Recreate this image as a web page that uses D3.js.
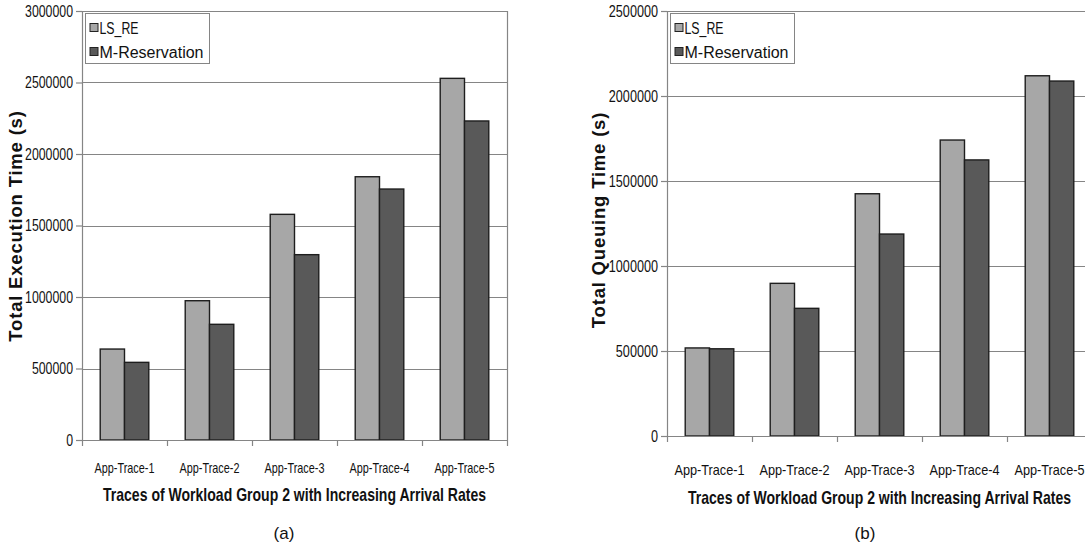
<!DOCTYPE html>
<html>
<head>
<meta charset="utf-8">
<script src="https://cdn.jsdelivr.net/npm/d3@7"></script>
<style>
  html, body { margin: 0; padding: 0; background: #fff; }
  svg { display: block; }
  text { font-family: "Liberation Sans", Arial, sans-serif; }
</style>
</head>
<body>
<svg id="chart" width="1085" height="544"></svg>
<script>
// Workload traces and series
const categories = ["App-Trace-1", "App-Trace-2", "App-Trace-3", "App-Trace-4", "App-Trace-5"];
const seriesNames = ["LS_RE", "M-Reservation"];

// (a) total execution time, seconds
const execLSRE = [636000, 974000, 1578000, 1841000, 2529000];
const execMRes = [543000, 809000, 1296000, 1755000, 2231000];
const execTicks = [0, 500000, 1000000, 1500000, 2000000, 2500000, 3000000];

// (b) total queuing time, seconds
const queueLSRE = [518000, 898000, 1425000, 1741000, 2119000];
const queueMRes = [513000, 751000, 1188000, 1624000, 2088000];
const queueTicks = [0, 500000, 1000000, 1500000, 2000000, 2500000];

const xTitle = "Traces of Workload Group 2 with Increasing Arrival Rates";
const colors = { "LS_RE": "#a7a7a7", "M-Reservation": "#595959" };
const lineGray = "#858585";

const svg = d3.select("#chart");

// Narrow the glyphs of each text by factor f (condensed face look-alike)
function squeeze(sel, f) {
  sel.each(function () {
    const len = this.getComputedTextLength();
    d3.select(this).attr("textLength", len * f).attr("lengthAdjust", "spacingAndGlyphs");
  });
}

function drawPanel(cfg) {
  const g = svg.append("g");
  const x = d3.scaleBand().domain(categories).range([cfg.left, cfg.right]).paddingInner(0).paddingOuter(0);
  const xs = d3.scaleBand().domain(seriesNames).range([0, x.bandwidth()]).paddingInner(0).paddingOuter(0.75);
  const y = d3.scaleLinear().domain([0, d3.max(cfg.ticks)]).range([cfg.bottom, cfg.top]);

  // horizontal gridlines
  g.append("g").selectAll("line").data(cfg.ticks.filter(t => t > 0)).join("line")
    .attr("x1", cfg.left).attr("x2", cfg.right)
    .attr("y1", d => Math.round(y(d)) + 0.5).attr("y2", d => Math.round(y(d)) + 0.5)
    .attr("stroke", lineGray).attr("stroke-width", 1.2);

  // right frame edge
  g.append("line")
    .attr("x1", cfg.right + 0.5).attr("x2", cfg.right + 0.5)
    .attr("y1", cfg.top).attr("y2", cfg.bottom)
    .attr("stroke", lineGray).attr("stroke-width", 1.2);

  // bars
  const rows = categories.map((c, i) => ({ cat: c, vals: [cfg.a[i], cfg.b[i]] }));
  g.append("g").selectAll("g").data(rows).join("g")
    .attr("transform", d => `translate(${x(d.cat)},0)`)
    .selectAll("rect").data(d => d.vals.map((v, j) => ({ key: seriesNames[j], v })))
    .join("rect")
    .attr("x", d => xs(d.key))
    .attr("width", xs.bandwidth())
    .attr("y", d => y(d.v))
    .attr("height", d => y(0) - y(d.v))
    .attr("fill", d => colors[d.key])
    .attr("stroke", "#1e1e1e").attr("stroke-width", 1.4);

  // y axis
  const yAxis = d3.axisLeft(y).tickValues(cfg.ticks).tickFormat(d3.format("d"))
    .tickSizeOuter(0).tickSize(6).tickPadding(3);
  const ya = g.append("g").attr("transform", `translate(${cfg.left},0)`).call(yAxis);
  ya.attr("font-family", null);
  ya.select(".domain").attr("stroke", lineGray).attr("stroke-width", 1.2);
  ya.selectAll(".tick line").attr("stroke", lineGray).attr("stroke-width", 1.2);
  const yt = ya.selectAll("text").attr("font-size", 16).attr("fill", "#111");
  squeeze(yt, cfg.yTickSqueeze);

  // x axis with ticks at category boundaries
  const xa = g.append("g").attr("transform", `translate(0,${cfg.bottom})`);
  xa.append("line").attr("x1", cfg.left).attr("x2", cfg.right).attr("y1", 0.5).attr("y2", 0.5)
    .attr("stroke", lineGray).attr("stroke-width", 1.2);
  const bounds = categories.map(c => x(c)).concat([cfg.right]);
  xa.selectAll("line.tk").data(bounds).join("line").attr("class", "tk")
    .attr("x1", d => d + 0.5).attr("x2", d => d + 0.5).attr("y1", 0).attr("y2", 6)
    .attr("stroke", lineGray).attr("stroke-width", 1.2);
  const xl = xa.selectAll("text").data(categories).join("text")
    .attr("x", d => x(d) + x.bandwidth() / 2).attr("y", cfg.xLabelDy)
    .attr("text-anchor", "middle").attr("font-size", cfg.xFont).attr("fill", "#111")
    .text(d => d);
  xl.attr("textLength", cfg.xLabelWidth).attr("lengthAdjust", "spacingAndGlyphs");

  // axis titles
  g.append("text")
    .attr("x", (cfg.left + cfg.right) / 2).attr("y", cfg.xTitleY)
    .attr("text-anchor", "middle").attr("font-weight", "bold").attr("font-size", 19).attr("fill", "#111")
    .attr("textLength", 383).attr("lengthAdjust", "spacingAndGlyphs")
    .text(xTitle);
  g.append("text")
    .attr("transform", `translate(${cfg.yTitleX},${cfg.yTitleY}) rotate(-90)`)
    .attr("text-anchor", "middle").attr("font-weight", "bold").attr("font-size", 18.5).attr("fill", "#111")
    .attr("letter-spacing", 0.8)
    .text(cfg.yTitle);

  // caption
  g.append("text")
    .attr("x", cfg.capX).attr("y", 539)
    .attr("text-anchor", "middle").attr("font-size", 17).attr("fill", "#111")
    .text(cfg.caption);

  // legend
  const lg = g.append("g").attr("transform", `translate(${cfg.left + 3.5},${cfg.top + 2.5})`);
  lg.append("rect").attr("width", 124).attr("height", 50)
    .attr("fill", "#fff").attr("stroke", lineGray).attr("stroke-width", 1);
  seriesNames.forEach((s, i) => {
    const cy = 14 + i * 24;
    lg.append("rect").attr("x", 4.5).attr("y", cy - 4).attr("width", 8).attr("height", 8)
      .attr("fill", colors[s]).attr("stroke", "#222").attr("stroke-width", 1);
    lg.append("text")
      .attr("x", 14).attr("y", cy + 6).attr("font-size", 16).attr("fill", "#111")
      .attr("textLength", i === 0 ? 39 : 104)
      .attr("lengthAdjust", i === 0 ? "spacingAndGlyphs" : "spacing")
      .text(s);
  });
}

drawPanel({
  left: 82, right: 507, top: 11, bottom: 440,
  ticks: execTicks, a: execLSRE, b: execMRes,
  yTickSqueeze: 0.77, xFont: 14.5, xLabelWidth: 60, xLabelDy: 33, xTitleY: 501,
  yTitle: "Total Execution Time (s)", yTitleX: 22, yTitleY: 226,
  caption: "(a)", capX: 284
});

drawPanel({
  left: 667, right: 1092, top: 11, bottom: 436,
  ticks: queueTicks, a: queueLSRE, b: queueMRes,
  yTickSqueeze: 0.79, xFont: 15, xLabelWidth: 70, xLabelDy: 39, xTitleY: 504,
  yTitle: "Total Queuing Time (s)", yTitleX: 605, yTitleY: 220,
  caption: "(b)", capX: 865
});
</script>
</body>
</html>
